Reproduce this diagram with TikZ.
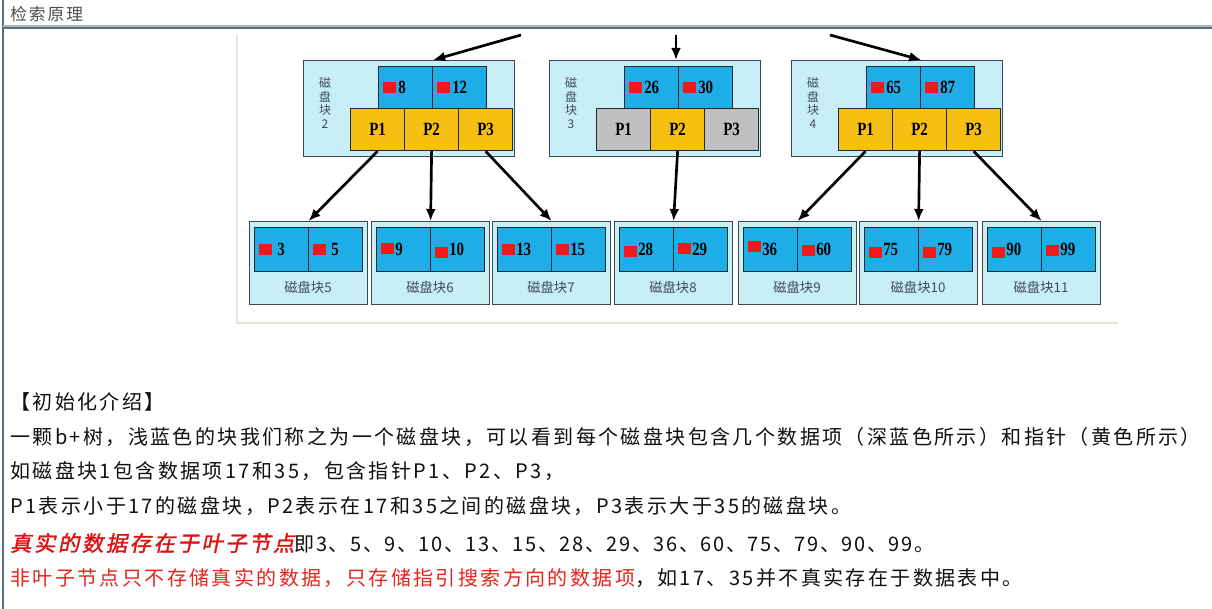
\documentclass[tikz,border=0pt]{standalone}
\usepackage{fontspec}
\setmainfont{Liberation Serif}
\newfontfamily\cjk{Noto Sans CJK SC}
\newfontfamily\cjkt[LetterSpace=12]{Noto Sans CJK SC}
\newfontfamily\cjkn[LetterSpace=8]{Noto Sans CJK SC}
\newfontfamily\cjkbi[FakeSlant=0.2,FakeBold=1.5,LetterSpace=12]{Noto Sans CJK SC}
\newfontfamily\numf[FakeStretch=0.8]{Liberation Serif}
\usetikzlibrary{arrows.meta}
\definecolor{outerbg}{HTML}{C8EEF6}
\definecolor{outerln}{HTML}{3A4650}
\definecolor{cellbg}{HTML}{1DAEE8}
\definecolor{cellln}{HTML}{1E2A30}
\definecolor{pyel}{HTML}{F6C012}
\definecolor{pgry}{HTML}{C0C0C0}
\definecolor{redsq}{HTML}{F01818}
\definecolor{lblc}{HTML}{3E4C58}
\definecolor{hdrln}{HTML}{5A6E7C}
\definecolor{hdrlt}{HTML}{A8B8C4}
\definecolor{framec}{HTML}{E4E4D8}
\definecolor{redA}{HTML}{E01010}
\definecolor{redB}{HTML}{E8241C}
\definecolor{txtc}{HTML}{101010}
\begin{document}
\begin{tikzpicture}[x=0.75pt,y=-0.75pt,
  wh/.style 2 args={minimum width=#1*0.75pt, minimum height=#2*0.75pt},
  box/.style={draw=outerln, fill=outerbg, line width=0.9pt, inner sep=0pt, anchor=north west},
  dcell/.style={draw=cellln, fill=cellbg, line width=0.9pt, inner sep=0pt, anchor=north west, wh={54}{42}},
  pcell/.style={draw=cellln, line width=0.9pt, inner sep=0pt, anchor=north west, wh={54}{42},
    font=\numf\bfseries\fontsize{14pt}{14pt}\selectfont, text=black},
  rsq/.style={fill=redsq, inner sep=0pt, anchor=west, wh={13}{11}},
  num/.style={inner sep=0pt, anchor=west, font=\numf\bfseries\fontsize{14pt}{14pt}\selectfont, text=black},
  vlbl/.style={inner sep=0pt, align=center, text=lblc, font=\cjk\fontsize{9pt}{10.3pt}\selectfont},
  llbl/.style={inner sep=0pt, text=lblc, font=\cjk\fontsize{10pt}{12pt}\selectfont},
  arr/.style={draw=black, line width=2pt, -{Latex[length=9pt,width=7.5pt]}},
  txt/.style={inner sep=0pt, anchor=west, text=txtc, font=\cjkt\fontsize{15pt}{18pt}\selectfont}
]
\fill[white] (0,0) rectangle (1212,609);
\useasboundingbox (0,0) rectangle (1212,609);
% page frame
\draw[hdrln, line width=1.5pt] (2.5,0) -- (2.5,609);
\draw[hdrlt, line width=0.8pt] (3,26) -- (1212,26);
\draw[hdrln, line width=1.5pt] (3,28.5) -- (1212,28.5);
\node[inner sep=0pt, anchor=west, text=black!70, font=\cjkt\fontsize{12.5pt}{14pt}\selectfont] (title) at (10,14) {检索原理};
% picture frame
\draw[framec, line width=1.2pt] (237,35) -- (237,323) -- (1118,323);
% upper blocks
\foreach \b/\L/\va/\vb/\pc in {2/303/8/12/pyel, 3/549/26/30/pgry, 4/791/65/87/pyel}{
  \node[box, wh={211}{96}] (b\b) at (\L,60) {};
  \node[dcell] (b\b-d1) at (\L+75,66) {};
  \node[dcell] (b\b-d2) at (\L+129,66) {};
  \node[pcell, fill=\pc] (b\b-p1) at (\L+47,108) {P1};
  \node[pcell, fill=pyel] (b\b-p2) at (\L+101,108) {P2};
  \node[pcell, fill=\pc] (b\b-p3) at (\L+155,108) {P3};
  \node[rsq] (b\b-r1) at (\L+80,87.5) {};
  \node[num] (b\b-n1) at (\L+95,87) {\va};
  \node[rsq] (b\b-r2) at (\L+134,87.5) {};
  \node[num] (b\b-n2) at (\L+149,87) {\vb};
  \node[vlbl] (b\b-lab) at (\L+22,103) {磁\\盘\\块\\\b};
}
% leaves
\foreach \n/\X/\va/\vb/\ra/\rb/\ga in {5/249/3/5/0/0/4, 6/371/9/10/-1/3/0, 7/492/13/15/0/0/0, 8/614/28/29/2/-1/0, 9/738/36/60/-3/1/0, 10/859/75/79/3/3/0, 11/982/90/99/3/1/0}{
  \node[box, wh={118}{83}] (l\n) at (\X,221) {};
  \node[dcell, wh={54}{44}] (l\n-a) at (\X+5,227) {};
  \node[dcell, wh={54}{44}] (l\n-b) at (\X+59,227) {};
  \node[rsq] (l\n-ra) at (\X+10,250+\ra) {};
  \node[num] (l\n-na) at (\X+24+\ga,249) {\va};
  \node[rsq] (l\n-rb) at (\X+64,250+\rb) {};
  \node[num] (l\n-nb) at (\X+78+\ga,249) {\vb};
  \node[llbl] (l\n-t) at (\X+59,287) {磁盘块\n};
}
% arrows from upper blocks to leaves
\draw[arr] (b2-p1.south) -- (l5.north);
\draw[arr] (b2-p2.south) -- (l6.north);
\draw[arr] (b2-p3.south) -- (l7.north);
\draw[arr] (b3-p2.south) -- (l8.north);
\draw[arr] (b4-p1.south) -- (l9.north);
\draw[arr] (b4-p2.south) -- (l10.north);
\draw[arr] (b4-p3.south) -- (l11.north);
% arrows coming from the (cropped) root block
\coordinate (t1) at (521,35);
\coordinate (t2) at (676,35);
\coordinate (t3) at (830,35);
\draw[arr] (t1) -- (b2-d1.north east |- b2.north);
\draw[arr] (t2) -- (t2 |- b3.north);
\draw[arr] (t3) -- (b4-d1.north east |- b4.north);
% text
\node[txt] (x0) at (10,402) {【初始化介绍】};
\node[txt] (x1) at (10,437) {一颗b+树，浅蓝色的块我们称之为一个磁盘块，可以看到每个磁盘块包含几个数据项（深蓝色所示）和指针（黄色所示）};
\node[txt] (x2) at (10,471) {如磁盘块1包含数据项17和35，包含指针P1、P2、P3，};
\node[txt] (x3) at (10,506) {P1表示小于17的磁盘块，P2表示在17和35之间的磁盘块，P3表示大于35的磁盘块。};
\node[txt] (x4) at (10,543) {{\cjkbi\fontsize{16pt}{18pt}\selectfont\color{redA}真实的数据存在于叶子节点}{\cjkn 即3、5、9、10、13、15、28、29、36、60、75、79、90、99。}};
\node[txt] (x5) at (10,578) {{\color{redB}非叶子节点只不存储真实的数据，只存储指引搜索方向的数据项}，如17、35并不真实存在于数据表中。};
\end{tikzpicture}
\end{document}
